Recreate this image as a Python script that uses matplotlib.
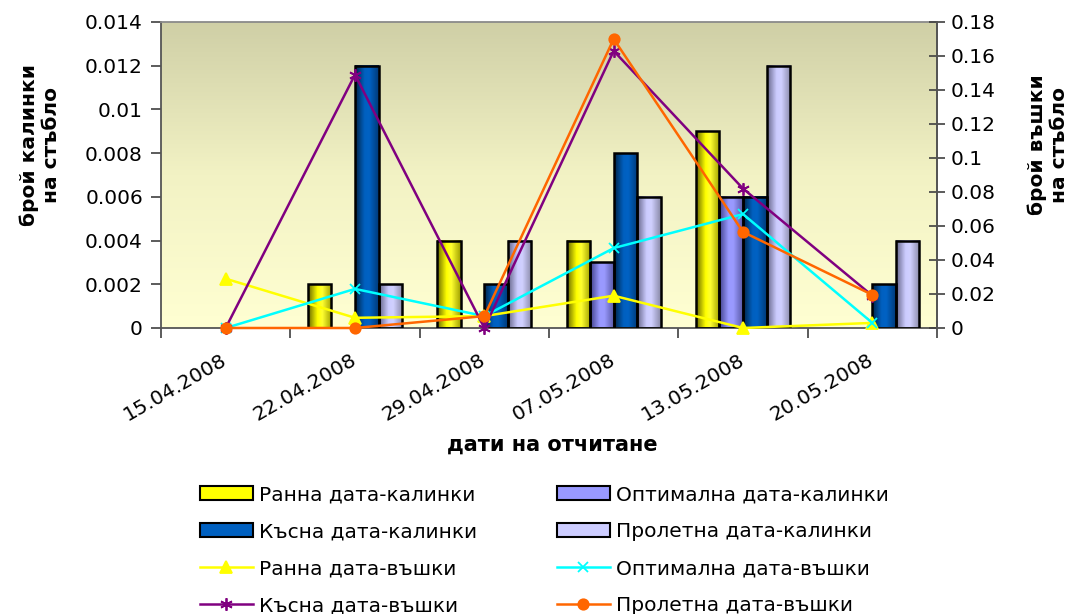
import numpy as np
import matplotlib
matplotlib.use("Agg")
import matplotlib.pyplot as plt
from matplotlib.colors import LinearSegmentedColormap
from matplotlib.patches import Patch

plt.rcParams['font.family'] = ['DejaVu Sans']

dates = ['15.04.2008', '22.04.2008', '29.04.2008', '07.05.2008', '13.05.2008', '20.05.2008']

# калинки (лява ос)
early_lb = [0, 0.002, 0.004, 0.004, 0.009, 0]
optimal_lb = [0, 0, 0, 0.003, 0.006, 0]
late_lb = [0, 0.012, 0.002, 0.008, 0.006, 0.002]
spring_lb = [0, 0.002, 0.004, 0.006, 0.012, 0.004]

# въшки (дясна ос)
early_ap = [0.029, 0.006, 0.007, 0.019, 0.0, 0.003]
optimal_ap = [0.0, 0.023, 0.007, 0.047, 0.067, 0.003]
late_ap = [0.0, 0.149, 0.0, 0.163, 0.082, 0.019]
spring_ap = [0.0, 0.0, 0.007, 0.170, 0.0565, 0.0195]

bar_series = [
    ('Ранна дата-калинки', early_lb, ['#6a6a00', '#ffff00', '#ffff30', '#a0a000']),
    ('Оптимална дата-калинки', optimal_lb, ['#40408a', '#9999ff', '#9a9aff', '#5a5aa8']),
    ('Късна дата-калинки', late_lb, ['#002448', '#0060c0', '#0062c4', '#003a78']),
    ('Пролетна дата-калинки', spring_lb, ['#66668a', '#ccccff', '#d0d0ff', '#8a8aa8']),
]
line_series = [
    ('Ранна дата-въшки', early_ap, '#ffff00', '^', 8),
    ('Оптимална дата-въшки', optimal_ap, '#00ffff', 'x', 7),
    ('Късна дата-въшки', late_ap, '#800080', (6, 2, 0), 9),
    ('Пролетна дата-въшки', spring_ap, '#ff6600', 'o', 7.5),
]

fig = plt.figure(figsize=(10.82, 6.14), dpi=100)
ax = fig.add_axes([0.1488, 0.4658, 0.7172, 0.4984])

# фон на полето с градиент
bg = LinearSegmentedColormap.from_list('bg', ['#cfcfa6', '#f2f2c4', '#ffffd2'])
ax.imshow(np.linspace(0, 1, 256).reshape(-1, 1), cmap=bg, aspect='auto',
          extent=[0, 1, 0, 1], transform=ax.transAxes, origin='upper', zorder=0)

x = np.arange(len(dates))
w = 0.182
grad = np.linspace(0, 1, 64).reshape(1, -1)
bar_handles = []
for i, (name, vals, cols) in enumerate(bar_series):
    pos = x + (i - 1.5) * w
    cmap = LinearSegmentedColormap.from_list(name, list(zip([0, 0.4, 0.6, 1], cols)))
    for p, v in zip(pos, vals):
        if v > 0:
            ax.imshow(grad, cmap=cmap, aspect='auto', extent=[p - w / 2, p + w / 2, 0, v],
                      zorder=2, interpolation='bilinear')
    lws = [1.8 if v > 0 else 0 for v in vals]
    ax.bar(pos, vals, width=w, facecolor='none', edgecolor='black', linewidth=lws, zorder=3)
    bar_handles.append(Patch(facecolor=cols[1], edgecolor='black', linewidth=1.5, label=name))

ax.set_xlim(-0.5, 5.5)
ax.set_ylim(0, 0.014)
ax.set_yticks(np.arange(0, 0.0141, 0.002))
ax.yaxis.set_major_formatter(plt.FuncFormatter(lambda v, _: '%g' % round(v, 4)))
ax.set_xticks(np.arange(-0.5, 6, 1))
ax.set_xticklabels([])
ax.set_xticks(x, minor=True)
ax.set_xticklabels(dates, minor=True, rotation=30, ha='right', va='center',
                   rotation_mode='anchor', fontsize=14.5)
ax.tick_params(axis='x', which='minor', length=0, pad=22)
ax.tick_params(axis='x', which='major', length=7, width=1.2, color='#404040')
ax.tick_params(axis='y', length=7, width=1.2, color='#404040', labelsize=14.5, pad=6)

for s in ax.spines.values():
    s.set_color('#555555')
    s.set_linewidth(1.3)
ax.spines['top'].set_color('#8a8a8a')

ax2 = ax.twinx()
line_handles = []
for name, vals, col, mk, ms in line_series:
    ln, = ax2.plot(x, vals, color=col, linewidth=1.8, marker=mk, markersize=ms,
                   markeredgecolor=col, markerfacecolor=col, markeredgewidth=1.3,
                   label=name, zorder=4, clip_on=False)
    line_handles.append(ln)
ax2.set_ylim(0, 0.18)
ax2.set_yticks(np.arange(0, 0.181, 0.02))
ax2.yaxis.set_major_formatter(plt.FuncFormatter(lambda v, _: '%g' % round(v, 3)))
ax2.tick_params(axis='y', direction='inout', length=12, width=1.2, color='#404040',
                labelsize=14.5, pad=4)
for s in ax2.spines.values():
    s.set_visible(False)
ax2.spines['right'].set_visible(True)
ax2.spines['right'].set_color('#555555')
ax2.spines['right'].set_linewidth(1.3)

fig.text(0.037, 0.764, 'брой калинки\nна стъбло', rotation=90, ha='center', va='center',
         fontsize=14.5, fontweight='bold', linespacing=1.2)
fig.text(0.969, 0.764, 'брой въшки\nна стъбло', rotation=90, ha='center', va='center',
         fontsize=14.5, fontweight='bold', linespacing=1.2)
fig.text(0.51, 0.275, 'дати на отчитане', ha='center', va='center',
         fontsize=15, fontweight='bold')

col1 = [bar_handles[0], bar_handles[2], line_handles[0], line_handles[2]]
col2 = [bar_handles[1], bar_handles[3], line_handles[1], line_handles[3]]
for handles, x0 in [(col1, 0.185), (col2, 0.515)]:
    fig.legend(handles=handles, labels=[h.get_label() for h in handles],
               loc='upper left', bbox_to_anchor=(x0, 0.21), ncol=1, frameon=False,
               fontsize=14.5, handlelength=2.6, handletextpad=0.3, labelspacing=0.9,
               borderaxespad=0, borderpad=0)

fig.savefig('out.png', dpi=100)
